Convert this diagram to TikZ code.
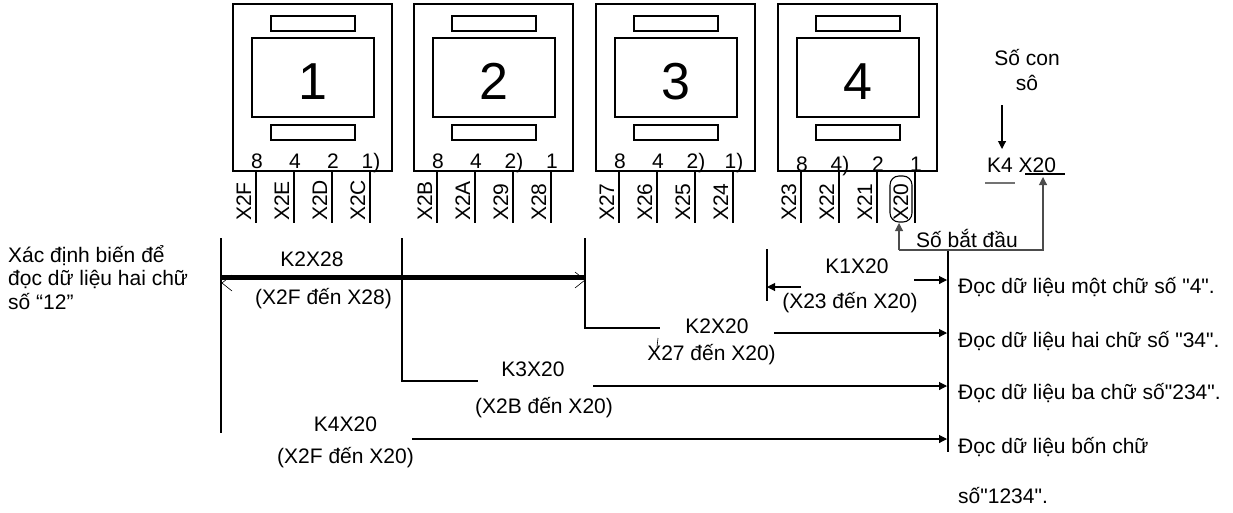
\documentclass[tikz,border=0pt]{standalone}
\usepackage{fontspec}
\setmainfont{Liberation Sans}[Ligatures=TeXOff]
\usetikzlibrary{arrows.meta}
\begin{document}
\begin{tikzpicture}[x=1pt,y=-1pt,
  lw/.style={line width=1.1pt},
  thinl/.style={line width=0.6pt},
  txt/.style={font=\fontsize{21}{23.5}\selectfont, inner sep=0pt},
  bignum/.style={font=\fontsize{52}{52}\selectfont, inner sep=0pt},
  pinlab/.style={txt, rotate=90, anchor=base west},
  digit/.style={txt, anchor=base},
  arr/.style={lw, -{Triangle[length=8pt,width=8pt]}},
  grayline/.style={lw, draw=black!70},
]
\useasboundingbox (0,0) rectangle (1233,512);

% ---- the four display units
\foreach \L/\n/\i in {233/1/a,414/2/b,596/3/c,778/4/d}{
  \draw[lw] (\L,4) rectangle ++(159,167);
  \draw[lw] (\L+38,16) rectangle (\L+122,31);
  \draw[lw] (\L+19,38) rectangle (\L+141,117);
  \draw[lw] (\L+38,125) rectangle (\L+122,140);
  \node[bignum] (num\i) at (\L+79.5,81.5) {\n};
  \foreach \o in {23,61,99,137}{
    \draw[lw] (\L+\o,171) -- (\L+\o,223);
  }
}

% ---- bit weights
\node[digit] (d1a) at (257,168) {8};
\node[digit] (d1b) at (295,168) {4};
\node[digit] (d1c) at (333,168) {2};
\node[digit] (d1d) at (371,168) {1)};
\node[digit] (d2a) at (438,168) {8};
\node[digit] (d2b) at (476,168) {4};
\node[digit] (d2c) at (514,168) {2)};
\node[digit] (d2d) at (552,168) {1};
\node[digit] (d3a) at (620,168) {8};
\node[digit] (d3b) at (658,168) {4};
\node[digit] (d3c) at (696,168) {2)};
\node[digit] (d3d) at (734,168) {1)};
\node[digit] (d4a) at (802,171) {8};
\node[digit] (d4b) at (840,171) {4)};
\node[digit] (d4c) at (878,171) {2};
\node[digit] (d4d) at (916,171) {1};

% ---- pin labels
\foreach \x/\t in {251/X2F,289/X2E,327/X2D,365/X2C,
                   432/X2B,470/X2A,508/X29,546/X28,
                   614/X27,652/X26,690/X25,728/X24,
                   796/X23,834/X22,872/X21}{
  \node[pinlab] (l\t) at (\x,221) {\t};
}
\node[pinlab] (lX20) at (908,221) {X20};
\draw[lw, rounded corners=9pt] (890,176) rectangle (912,222);
\coordinate (x20b) at (899,223);

% ---- brackets on the left
\coordinate (v1t) at (221,238); \coordinate (v1b) at (221,433);
\coordinate (v2t) at (402,238); \coordinate (v2c) at (402,381); \coordinate (v2e) at (478,381);
\coordinate (v3t) at (585,238); \coordinate (v3c) at (585,328); \coordinate (v3e) at (660,328);
\draw[lw] (v1t) -- (v1b);
\draw[lw] (v2t) -- (v2c) -- (v2e);
\draw[lw] (v3t) -- (v3c) -- (v3e);
\coordinate (tl) at (221,277); \coordinate (tr) at (585,277);
\draw[line width=5pt] (tl) -- (tr);
\draw[thinl] (232,275) -- (222,283) -- (232,291);
\draw[thinl] (575,272) -- (585,280) -- (575,288);

% ---- left text
\node[txt, anchor=base west] (lt1) at (8,262) {Xác định biến để};
\node[txt, anchor=base west] (lt2) at (8,285) {đọc dữ liệu hai chữ};
\node[txt, anchor=base west] (lt3) at (8,309) {số “12”};

% ---- labels
\node[digit] (k2x28) at (312,266) {K2X28};
\node[digit] (r2x28) at (323.5,304) {(X2F đến X28)};
\node[digit] (k3x20) at (533,376) {K3X20};
\node[digit] (r3x20) at (544,413) {(X2B đến X20)};
\node[digit] (k4x20) at (345.5,431) {K4X20};
\node[digit] (r4x20) at (345.5,463) {(X2F đến X20)};
\node[digit] (k1x20) at (857,273) {K1X20};
\node[digit] (r1x20) at (850,308) {(X23 đến X20)};
\node[digit] (k2x20) at (717,333) {K2X20};
\node[digit] (r2x20) at (711.5,360) {X27 đến X20)};
\draw[thinl] (658,338) -- (657,347);

% ---- right side
\coordinate (vt) at (948,250); \coordinate (vb) at (948,452);
\draw[lw] (vt) -- (vb);
\coordinate (a1s) at (914,280); \coordinate (a1e) at (947,280);
\coordinate (a2s) at (774,333); \coordinate (a2e) at (947,333);
\coordinate (a3s) at (593,386); \coordinate (a3e) at (947,386);
\coordinate (a4s) at (412,439); \coordinate (a4e) at (947,439);
\draw[arr] (a1s) -- (a1e);
\draw[arr] (a2s) -- (a2e);
\draw[arr] (a3s) -- (a3e);
\draw[arr] (a4s) -- (a4e);
\coordinate (b1t) at (767,249); \coordinate (b1b) at (767,301);
\draw[lw] (b1t) -- (b1b);
\coordinate (k1s) at (801,287); \coordinate (k1e) at (767,287);
\draw[arr] (k1s) -- (k1e);

\node[txt, anchor=base west] (o1) at (958,293) {Đọc dữ liệu một chữ số "4".};
\node[txt, anchor=base west] (o2) at (958,347) {Đọc dữ liệu hai chữ số "34".};
\node[txt, anchor=base west] (o3) at (958,399) {Đọc dữ liệu ba chữ số"234".};
\node[txt, anchor=base west] (o4) at (958,453) {Đọc dữ liệu bốn chữ};
\node[txt, anchor=base west] (o5) at (958,503) {số"1234".};

% ---- K4 X20 explanation
\node[digit] (sc1) at (1027,65) {Số con};
\node[digit] (sc2) at (1027,90) {sô};
\node[txt, anchor=base west] (k4) at (987,172) {K4 X20};
\coordinate (sa) at (1002,105); \coordinate (sb) at (1002,149);
\draw[arr] (sa) -- (sb);
\draw[lw, draw=black!55] (985,183) -- (1015,183);
\draw[lw] (1025,174) -- (1065,174);
\node[txt, anchor=base west] (sbd) at (916,247) {Số bắt đầu};
\coordinate (c1) at (899,250); \coordinate (c2) at (1043,250); \coordinate (c3) at (1043,177);
\draw[arr, draw=black!70, fill=black] (c1) -- (x20b);
\draw[arr, draw=black!70] (c1) -- (c2) -- (c3);
\end{tikzpicture}
\end{document}
